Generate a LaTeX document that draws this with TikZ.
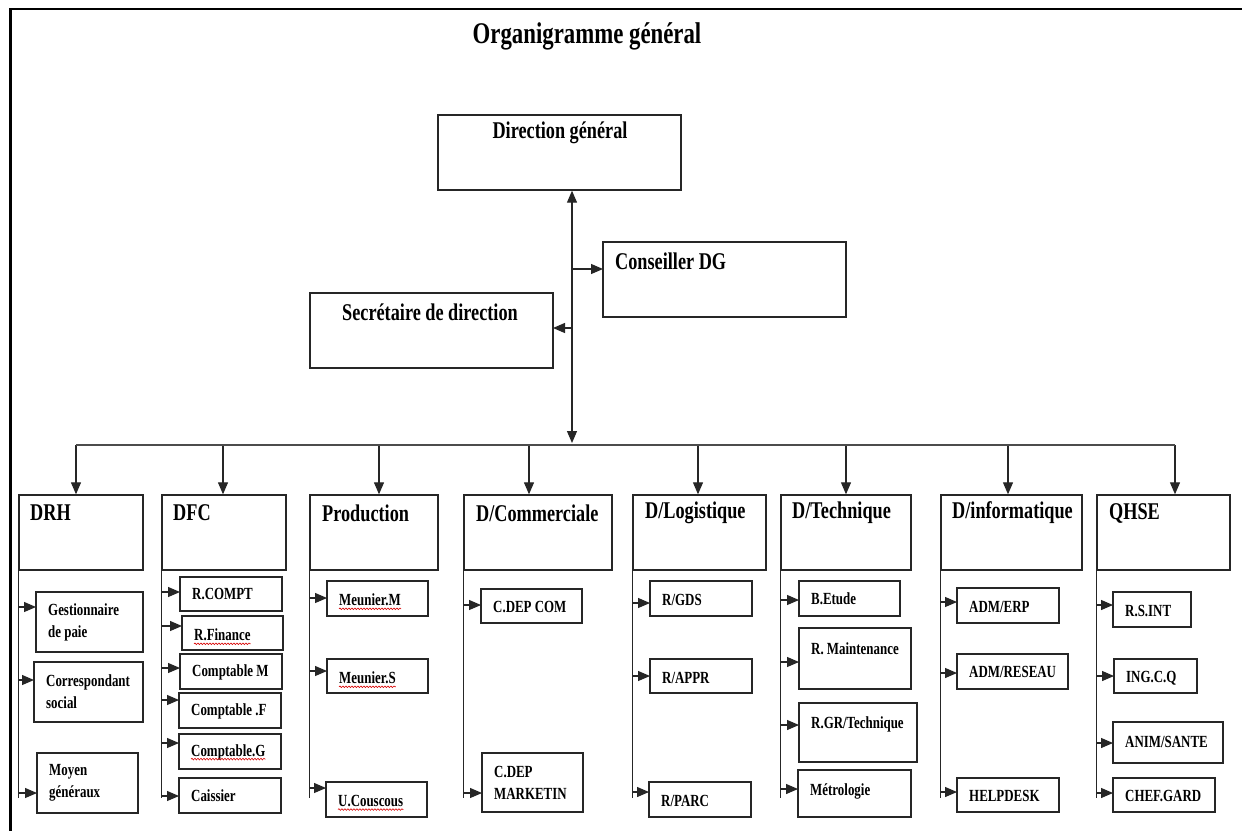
\documentclass[tikz,border=0pt]{standalone}
\usepackage{fontspec}
\setmainfont{Liberation Serif}[FakeStretch=0.76]
\usetikzlibrary{arrows.meta,fit,decorations.pathmorphing}

\tikzset{
  orgbox/.style={draw=black!85, line width=1.4pt, inner sep=0pt},
  orglink/.style={draw=black!85, line width=1.2pt},
  tipshape/.tip={Triangle[length=12pt,width=10pt]},
  orgarr/.style={orglink, -tipshape},
  busline/.style={draw=black!70, line width=1.8pt},
  frameline/.style={draw=black, line width=2.5pt},
  titletxt/.style={font=\fontsize{30}{32}\selectfont\bfseries, inner sep=0pt},
  headtxt/.style={font=\fontsize{24}{26}\selectfont\bfseries, inner sep=0pt, anchor=west},
  subtxt/.style={font=\fontsize{17}{22}\selectfont\bfseries, inner sep=0pt, anchor=west, align=left},
  wavy/.style={draw=red!85!black, line width=0.6pt, decorate,
    decoration={snake, amplitude=0.8pt, segment length=3pt}},
}

% #1 name, #2 x1, #3 y1, #4 x2, #5 y2, #6 arrow x on bus, #7 text x, #8 text
\newcommand{\headunit}[8]{%
  \node[orgbox, fit={(#2,#3)(#4,#5)}] (#1) {};
  \coordinate (#1-bus) at (#6,445);
  \draw[orgarr] (#1-bus) -- (#1-bus |- #1.north);
  \node[headtxt] (#1-t) at (#7,513) {#8};
  \draw[orglink] (#1.south west) -- ++(0,227);
}
% #1 dept, #2 name, #3 x1, #4 y1, #5 x2, #6 y2, #7 arrow y, #8 text y, #9 text
\newcommand{\subunit}[9]{%
  \node[orgbox, fit={(#3,#4)(#5,#6)}] (#2) {};
  \coordinate (#2-in) at (#3,#7);
  \draw[orgarr] (#1.south west |- #2-in) -- (#2-in);
  \node[subtxt] (#2-t) at (#3+12,#8) {#9};
}
\newcommand{\spellmark}[1]{%
  \draw[wavy] ([yshift=-3pt]#1.base west) -- ([yshift=-3pt]#1.base east);
}

\begin{document}
\begin{tikzpicture}[x=1pt,y=-1pt]
\useasboundingbox (0,0) rectangle (1242,831);
\fill[white] (0,0) rectangle (1242,831);

% frame
\draw[frameline] (1242,9) -- (10.5,9) -- (10.5,831);

% title
\node[titletxt] (title) at (587,36) {Organigramme général};

% top level
\node[orgbox, fit={(438,115)(681,190)}] (dg) {};
\node[headtxt, anchor=center] (dg-t) at (560,133) {Direction général};
\node[orgbox, fit={(603,242)(846,317)}] (cons) {};
\node[headtxt] (cons-t) at (615,261) {Conseiller DG};
\node[orgbox, fit={(310,293)(553,368)}] (sec) {};
\node[headtxt] (sec-t) at (342,312) {Secrétaire de direction};

\coordinate (trunk) at (572,445);
\draw[orglink, tipshape-tipshape]
  (dg.south -| trunk) -- ([yshift=2pt]trunk);
\coordinate (cons-in) at (603,269);
\draw[orgarr] (trunk |- cons-in) -- (cons-in);
\coordinate (sec-in) at (553,328);
\draw[orgarr] (trunk |- sec-in) -- (sec-in);

% departments
\headunit{drh}{19}{495}{143}{570}{76}{30}{DRH}
\headunit{dfc}{162}{495}{286}{570}{223}{173}{DFC}
\headunit{prod}{310}{495}{438}{570}{379}{322}{Production}
\headunit{dcom}{464}{495}{612}{570}{529}{476}{D/Commerciale}
\headunit{dlog}{633}{495}{766}{570}{698}{645}{D/Logistique}
\headunit{dtech}{781}{495}{911}{570}{846}{792}{D/Technique}
\headunit{dinfo}{941}{495}{1082}{570}{1008}{952}{D/informatique}
\headunit{qhse}{1097}{495}{1230}{570}{1175}{1109}{QHSE}

\draw[busline] (drh-bus) -- (qhse-bus);

% DRH
\subunit{drh}{gest}{36}{592}{143}{652}{607}{622}{Gestionnaire\\de paie}
\subunit{drh}{corr}{34}{662}{143}{722}{680}{692}{Correspondant\\social}
\subunit{drh}{moyen}{37}{753}{138}{813}{793}{783}{Moyen\\généraux}

% DFC
\subunit{dfc}{rcompt}{180}{577}{282}{611}{592}{594}{R.COMPT}
\subunit{dfc}{rfin}{182}{616}{283}{650}{626}{635}{R.Finance}
\subunit{dfc}{cptm}{180}{654}{282}{689}{668}{672}{Comptable M}
\subunit{dfc}{cptf}{179}{693}{281}{728}{700}{711}{Comptable .F}
\subunit{dfc}{cptg}{179}{734}{281}{769}{743}{752}{Comptable.G}
\subunit{dfc}{caiss}{179}{778}{281}{813}{796}{796}{Caissier}

% Production
\subunit{prod}{meunm}{327}{581}{428}{616}{598}{600}{Meunier.M}
\subunit{prod}{meuns}{327}{659}{428}{693}{671}{678}{Meunier.S}
\subunit{prod}{ucous}{326}{782}{427}{817}{788}{801}{U.Couscous}

% D/Commerciale
\subunit{dcom}{cdepcom}{481}{589}{582}{623}{605}{607}{C.DEP COM}
\subunit{dcom}{cdepmk}{482}{753}{583}{812}{793}{783}{C.DEP\\MARKETIN}

% D/Logistique
\subunit{dlog}{rgds}{650}{581}{752}{616}{603}{600}{R/GDS}
\subunit{dlog}{rappr}{650}{659}{752}{693}{676}{678}{R/APPR}
\subunit{dlog}{rparc}{649}{782}{751}{817}{792}{801}{R/PARC}

% D/Technique
\subunit{dtech}{betude}{799}{581}{900}{616}{600}{599}{B.Etude}
\subunit{dtech}{rmaint}{799}{628}{911}{689}{662}{649}{R. Maintenance}
\subunit{dtech}{rgrt}{799}{703}{917}{762}{725}{724}{R.GR/Technique}
\subunit{dtech}{metro}{798}{770}{911}{817}{789}{791}{Métrologie}

% D/informatique
\subunit{dinfo}{admerp}{957}{588}{1059}{623}{602}{607}{ADM/ERP}
\subunit{dinfo}{admres}{957}{654}{1068}{689}{673}{672}{ADM/RESEAU}
\subunit{dinfo}{helpd}{957}{778}{1059}{812}{792}{796}{HELPDESK}

% QHSE
\subunit{qhse}{rsint}{1113}{592}{1191}{627}{605}{611}{R.S.INT}
\subunit{qhse}{ingcq}{1114}{659}{1197}{693}{676}{678}{ING.C.Q}
\subunit{qhse}{anim}{1113}{722}{1223}{763}{743}{742}{ANIM/SANTE}
\subunit{qhse}{chef}{1113}{778}{1215}{812}{793}{796}{CHEF.GARD}

% spell-check marks
\spellmark{rfin-t}
\spellmark{cptg-t}
\spellmark{meunm-t}
\spellmark{meuns-t}
\spellmark{ucous-t}
\end{tikzpicture}
\end{document}
